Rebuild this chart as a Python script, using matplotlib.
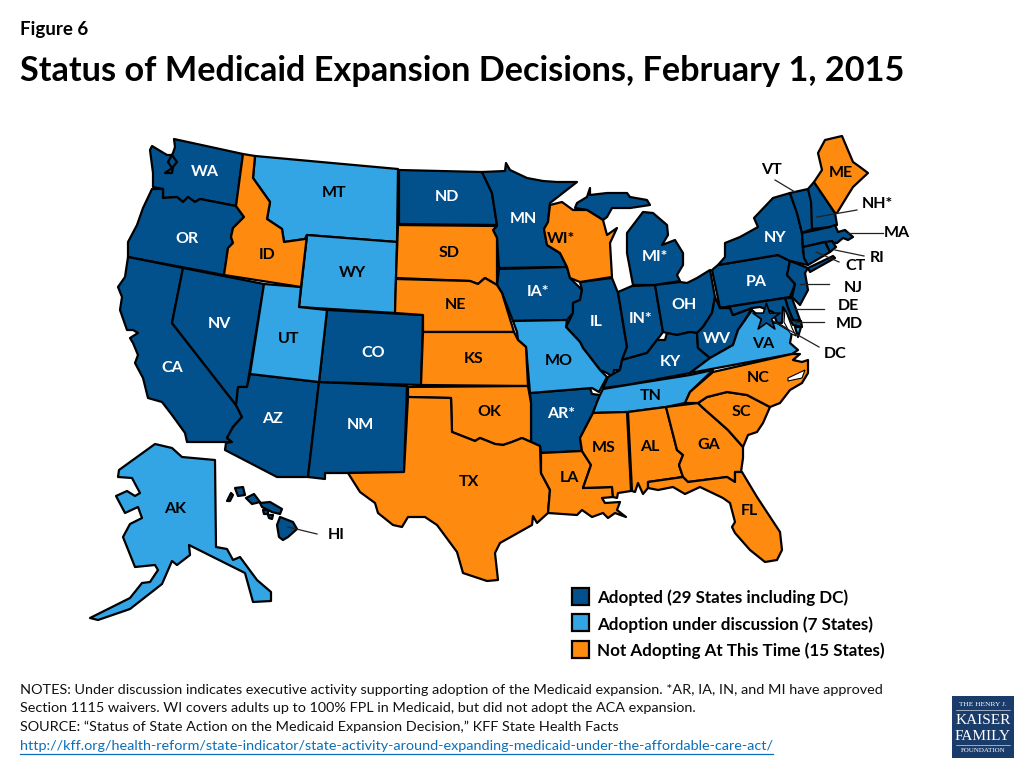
# Status of Medicaid expansion decisions, drawn state by state on a pixel canvas
import matplotlib
matplotlib.use('Agg')
import matplotlib.pyplot as plt
from matplotlib.patches import Polygon, Rectangle

plt.rcParams['font.family'] = ['Lato', 'Open Sans', 'DejaVu Sans']

adopted = ['WA', 'OR', 'CA', 'NV', 'AZ', 'NM', 'CO', 'ND', 'MN', 'IA', 'AR', 'IL', 'IN', 'MI', 'MI2', 'OH', 'KY', 'WV',
           'PA', 'NY', 'NY2', 'VT', 'NH', 'MA', 'RI', 'CT', 'NJ', 'DE', 'MD', 'HI', 'HI2', 'HI3', 'HI4', 'HI5', 'HI6', 'HI7']
discussion = ['MT', 'WY', 'UT', 'MO', 'TN', 'VA', 'VA2', 'AK']
not_adopting = ['ID', 'SD', 'NE', 'KS', 'OK', 'TX', 'LA', 'MS', 'AL', 'GA', 'FL', 'SC', 'NC', 'WI', 'ME']

legend_labels = ['Adopted (29 States including DC)', 'Adoption under discussion (7 States)',
                 'Not Adopting At This Time (15 States)']

# state outlines
outlines = {
    'WA': [(174,139),(243,154),(236,206),(200,199),(195,202),(188,197),(183,202),(177,197),(163,198),(163,189),(153,187),(153,173),(150,150),(152,146),(167,155),(172,155),(177,162),(173,167),(172,173),(165,173),(172,168),(168,162),(173,153),(175,147)],
    'OR': [(152,189),(163,189),(163,198),(177,197),(183,202),(188,197),(195,202),(200,199),(236,206),(244,217),(233,228),(231,237),(233,243),(228,248),(224,275),(128,257),(128,242),(137,225),(143,208)],
    'CA': [(128,257),(183,268),(172,323),(236,405),(242,417),(233,427),(227,438),(232,442),(187,442),(185,433),(172,415),(162,402),(148,398),(143,378),(135,363),(138,355),(133,343),(130,338),(138,333),(133,330),(127,330),(120,310),(122,297),(118,287),(125,277)],
    'NV': [(183,268),(264,284),(249,375),(247,387),(238,387),(237,405),(236,405),(172,323)],
    'ID': [(243,154),(255,156),(253,178),(270,202),(267,219),(282,229),(284,242),(305,239),(307,235),(301,287),(224,275),(228,248),(233,243),(231,237),(233,228),(244,217),(236,206)],
    'MT': [(255,156),(398,169),(397,242),(307,235),(305,239),(284,242),(282,229),(267,219),(270,202),(253,178)],
    'WY': [(307,235),(397,242),(395,313),(299,307)],
    'UT': [(264,284),(301,287),(299,307),(327,310),(319,382),(250,374)],
    'CO': [(327,310),(423,315),(421,385),(319,382)],
    'AZ': [(250,374),(319,382),(308,477),(277,477),(225,450),(226,443),(232,442),(227,438),(233,427),(242,417),(236,405),(238,387),(247,387)],
    'NM': [(319,382),(407,386),(404,472),(348,473),(325,473),(325,479),(308,477)],
    'ND': [(399,170),(482,172),(492,193),(497,225),(399,224)],
    'SD': [(398,225),(497,226),(493,230),(497,238),(497,285),(485,278),(478,284),(470,281),(396,278)],
    'NE': [(396,279),(470,281),(478,284),(485,278),(497,285),(502,293),(514,332),(423,332),(423,315),(395,313)],
    'KS': [(423,332),(514,332),(518,340),(526,347),(528,386),(421,385)],
    'OK': [(408,387),(528,386),(531,403),(531,442),(522,438),(512,442),(503,445),(495,444),(480,438),(475,441),(452,432),(451,398),(408,397)],
    'TX': [(408,397),(451,398),(452,432),(475,441),(480,438),(495,444),(503,445),(512,442),(522,438),(531,442),(540,446),(541,473),(550,490),(548,513),(537,523),(533,516),(532,525),(500,543),(495,553),(498,580),(487,581),(463,573),(457,552),(437,525),(425,517),(408,517),(402,527),(393,525),(378,513),(375,503),(360,492),(348,473),(404,472)],
    'MN': [(482,172),(505,171),(506,163),(510,170),(527,178),(543,181),(557,182),(577,182),(550,203),(548,222),(544,229),(547,245),(560,253),(567,267),(499,268),(497,238),(493,230),(497,225),(492,193)],
    'WI': [(550,205),(562,202),(573,210),(587,210),(603,220),(607,235),(617,228),(610,243),(612,277),(580,282),(570,278),(567,267),(560,253),(547,245),(544,229),(548,222)],
    'IA': [(499,269),(567,267),(570,278),(582,290),(580,300),(573,303),(573,313),(567,320),(513,321),(502,293),(497,285)],
    'MO': [(513,321),(567,320),(566,327),(580,342),(583,348),(590,357),(600,370),(607,377),(599,392),(592,388),(530,393),(526,347),(518,340),(517,332)],
    'AR': [(530,393),(590,388),(592,394),(600,395),(593,413),(580,438),(582,451),(541,453),(540,446),(531,442),(531,403)],
    'LA': [(541,453),(582,451),(591,465),(583,488),(612,487),(613,497),(602,498),(605,503),(620,502),(617,510),(626,517),(615,513),(608,518),(603,513),(592,517),(582,510),(577,515),(548,513),(550,490),(541,473)],
    'MS': [(593,413),(627,412),(631,491),(618,493),(617,498),(613,497),(612,487),(583,488),(591,465),(582,451),(580,438)],
    'AL': [(628,412),(666,407),(677,450),(683,455),(679,465),(683,477),(648,482),(648,488),(643,494),(638,483),(635,492),(632,491)],
    'GA': [(666,407),(698,403),(702,407),(728,430),(743,447),(743,458),(741,472),(735,472),(735,482),(727,477),(688,482),(683,477),(679,465),(683,455),(677,450)],
    'FL': [(648,482),(683,477),(688,482),(727,477),(735,482),(735,472),(742,472),(757,497),(780,532),(782,550),(777,560),(765,562),(750,550),(735,533),(732,527),(735,522),(730,503),(723,498),(700,487),(685,494),(673,487),(658,490),(648,488)],
    'SC': [(698,403),(707,397),(727,392),(747,395),(770,407),(763,423),(757,432),(748,435),(743,447),(728,430),(702,407)],
    'NC': [(685,403),(690,392),(713,372),(792,354),(800,354),(793,360),(802,362),(808,360),(808,373),(802,383),(790,390),(780,403),(770,407),(747,395),(727,392),(707,397),(698,403)],
    'TN': [(593,413),(597,402),(600,395),(603,389),(627,385),(690,375),(713,370),(690,392),(685,403),(666,407),(628,412)],
    'KY': [(603,388),(608,377),(620,370),(622,360),(647,353),(657,340),(665,340),(667,333),(677,335),(690,332),(697,333),(698,348),(710,358),(690,373),(627,385)],
    'IL': [(580,282),(612,278),(618,293),(627,347),(622,360),(620,370),(614,370),(613,377),(607,373),(600,370),(590,357),(583,348),(580,342),(566,327),(573,313),(573,303),(580,300),(582,290)],
    'IN': [(618,292),(632,286),(655,285),(663,332),(657,340),(647,353),(622,360),(627,347)],
    'OH': [(655,285),(680,282),(687,283),(697,278),(710,270),(715,297),(712,313),(703,327),(697,333),(690,332),(677,335),(667,333),(663,332)],
    'MI': [(633,285),(627,253),(627,233),(643,212),(653,213),(667,225),(668,235),(662,245),(675,240),(683,253),(683,265),(677,275),(680,281),(655,285)],
    'MI2': [(575,208),(577,203),(587,197),(590,188),(590,195),(607,193),(627,193),(630,197),(647,200),(650,205),(630,208),(612,208),(607,217),(603,220),(587,210)],
    'NY': [(718,265),(725,257),(725,243),(740,237),(758,227),(754,218),(773,198),(790,193),(797,213),(802,233),(803,252),(808,265),(790,261),(778,255)],
    'NY2': [(808,268),(833,256),(835,258),(810,272)],
    'VT': [(790,193),(808,189),(813,201),(812,229),(802,233),(797,213)],
    'NH': [(808,189),(814,182),(835,213),(837,225),(830,227),(812,229),(811,202)],
    'ME': [(814,182),(822,170),(818,153),(825,140),(842,136),(853,162),(860,167),(868,173),(853,187),(848,195),(837,213),(835,213)],
    'MA': [(802,233),(830,227),(835,225),(838,232),(845,230),(853,237),(848,240),(843,238),(837,243),(825,242),(803,247)],
    'CT': [(803,247),(825,242),(830,252),(808,265),(804,258)],
    'RI': [(825,242),(832,241),(836,247),(830,252)],
    'NJ': [(790,261),(808,268),(805,273),(808,290),(800,305),(792,297),(795,284),(787,275)],
    'PA': [(712,270),(718,265),(778,255),(790,261),(787,275),(795,284),(790,297),(720,308)],
    'DE': [(785,298),(792,298),(800,320),(793,320),(788,308)],
    'MD': [(720,308),(785,298),(788,308),(793,320),(801,321),(802,327),(793,325),(783,307),(782,323),(777,323),(773,312),(760,307),(752,308),(733,315),(730,308)],
    'WV': [(715,297),(720,308),(730,308),(733,315),(752,308),(745,320),(738,330),(733,345),(710,358),(698,348),(697,333),(703,327),(712,313)],
    'VA': [(690,373),(710,358),(733,345),(738,330),(745,320),(752,310),(765,322),(777,323),(792,332),(790,343),(798,350),(792,354)],
    'VA2': [(795,327),(801,327),(798,337)],
    'AK': [(155,444),(172,448),(182,457),(215,460),(216,547),(227,549),(233,560),(240,557),(257,580),(271,592),(271,601),(253,602),(245,573),(189,545),(190,555),(177,565),(172,561),(162,584),(130,609),(98,620),(90,618),(130,598),(142,583),(150,582),(158,570),(155,565),(135,567),(123,537),(130,524),(142,518),(138,507),(125,513),(116,496),(127,491),(135,496),(140,493),(132,478),(118,477),(119,470)],
    'HI': [(280,517),(293,522),(297,529),(288,537),(283,540),(279,537),(277,525)],
    'HI2': [(260,503),(270,502),(282,509),(280,514),(272,512),(262,507)],
    'HI3': [(246,498),(254,494),(260,502),(252,504)],
    'HI4': [(235,488),(243,487),(245,495),(238,496)],
    'HI5': [(227,501),(231,493),(233,495),(230,501)],
    'HI6': [(263,510),(268,510),(268,514),(264,514)],
    'HI7': [(268,515),(273,515),(272,519),(269,518)],
}

# inland water cut out of the states: Chesapeake Bay, Pamlico Sound
water = [[(785,309),(792,328),(796,336),(790,333),(784,322)],
         [(788,378),(805,370),(802,378),(788,381)]]

# label text, x, y
white_labels = [('WA',205,171),('OR',187,238),('CA',172,367),('NV',219,323),('AZ',272,418),('NM',360,424),('CO',373,352),
                ('ND',447,196),('MN',523,218),('IA*',538,291),('AR*',561,413),('IL',596,321),('IN*',641,318),('MI*',655,256),
                ('OH',684,304),('KY',670,361),('WV',717,338),('PA',756,281),('NY',775,237)]
black_labels = [('MT',334,192),('ID',267,254),('WY',352,272),('UT',289,338),('SD',449,252),('NE',455,304),('KS',474,358),
                ('OK',489,411),('TX',469,481),('MO',559,360),('WI*',561,238),('LA',569,477),('MS',604,447),('AL',650,446),
                ('GA',709,444),('FL',749,510),('SC',741,411),('NC',758,377),('TN',651,395),('VA',763,343),('ME',841,172),
                ('VT',771,169),('NH*',877,203),('MA',897,232),('RI',877,257),('CT',855,265),('NJ',853,287),('DE',848,305),
                ('MD',849,323),('DC',835,353),('AK',175,508),('HI',336,534)]

leaders = [((775,180),(795,192)),((857,210),(817,217)),((883,233),(847,233)),((864,256),(835,250)),((839,262),(816,252)),
           ((829,284),(800,284)),((824,309),(795,309)),((824,322),(795,322)),((819,347),(766,317)),((317,534),(288,527))]

notes = ['NOTES: Under discussion indicates executive activity supporting adoption of the Medicaid expansion. *AR, IA, IN, and MI have approved',
         'Section 1115 waivers. WI covers adults up to 100% FPL in Medicaid, but did not adopt the ACA expansion.',
         'SOURCE: \u201cStatus of State Action on the Medicaid Expansion Decision,\u201d KFF State Health Facts']
link = 'http://kff.org/health-reform/state-indicator/state-activity-around-expanding-medicaid-under-the-affordable-care-act/'

dark = '#03518c'
light = '#33a4e4'
orange = '#fe8a0f'

fig = plt.figure(figsize=(10.24, 7.68), dpi=100)
ax = fig.add_axes([0, 0, 1, 1])
ax.set_xlim(0, 1024)
ax.set_ylim(768, 0)
ax.axis('off')

for names, color in [(adopted, dark), (discussion, light), (not_adopting, orange)]:
    for name in names:
        ax.add_patch(Polygon(outlines[name], closed=True, facecolor=color, edgecolor='black', linewidth=1.6, joinstyle='round', zorder=2))
for shape in water:
    ax.add_patch(Polygon(shape, closed=True, facecolor='white', edgecolor='black', linewidth=0.8, zorder=2.5))

for a, b in leaders:
    ax.plot([a[0], b[0]], [a[1], b[1]], color='#222222', lw=0.9, zorder=3)

# DC marker sits on top of the leader
ax.scatter([766, ], [317, ], marker='*', s=420, facecolor=dark, edgecolor='black', linewidth=1.2, zorder=4)

for lab, x, y in white_labels:
    ax.text(x, y + 1, lab, color='white', fontsize=11.5, fontweight='bold', ha='center', va='center', zorder=5)
for lab, x, y in black_labels:
    ax.text(x, y + 1, lab, color='black', fontsize=11.5, fontweight='bold', ha='center', va='center', zorder=5)

ax.text(20, 30, 'Figure 6', fontsize=13.5, fontweight='bold', ha='left', va='center')
ax.text(20, 71, 'Status of Medicaid Expansion Decisions, February 1, 2015', fontsize=24.7, fontweight='bold', ha='left', va='center')

for i, (lab, color) in enumerate(zip(legend_labels, [dark, light, orange])):
    y = 597 + i * 26.3
    ax.add_patch(Rectangle((572, y - 9), 17, 17, facecolor=color, edgecolor='black', linewidth=1.6))
    ax.text(597, y + 1, lab, fontsize=12.25, fontweight='bold', ha='left', va='center')

for i, line in enumerate(notes):
    ax.text(20, 690 + i * 18.5, line, fontsize=10.4, ha='left', va='center', color='#111111')
link_text = ax.text(20, 746, link, fontsize=10.4, ha='left', va='center', color='#0b6fb8')
fig.canvas.draw()
box = link_text.get_window_extent()
ax.plot([box.x0, box.x1], [754, 754], color='#0b6fb8', lw=0.9)

# foundation logo
ax.add_patch(Rectangle((952, 696), 62, 62, facecolor='#1a3c6b', edgecolor='none'))
ax.text(983, 704, 'THE HENRY J.', color='white', fontsize=5.3, family='Liberation Serif', ha='center', va='center')
ax.plot([956, 1010], [710, 710], color='white', lw=0.4)
ax.text(983, 720, 'KAISER', color='white', fontsize=11, family='Liberation Serif', ha='center', va='center')
ax.text(983, 736, 'FAMILY', color='white', fontsize=11, family='Liberation Serif', ha='center', va='center')
ax.plot([956, 1010], [745, 745], color='white', lw=0.4)
ax.text(983, 751, 'FOUNDATION', color='white', fontsize=5, family='Liberation Serif', ha='center', va='center')

fig.savefig('out.png', dpi=100)
